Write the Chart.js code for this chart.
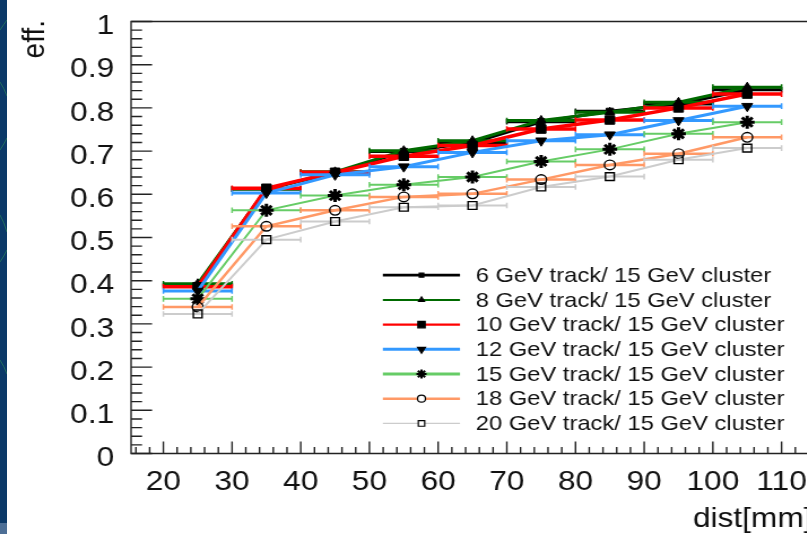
<!DOCTYPE html>
<html>
<head>
<meta charset="utf-8">
<script src="https://cdn.jsdelivr.net/npm/chart.js@4.4.1/dist/chart.umd.min.js"></script>
<style>
  html, body { margin: 0; padding: 0; background: #fff; }
  #wrap { position: relative; width: 807px; height: 534px; overflow: hidden; background: #fff; }
  /* the original plot was pasted into a slide slightly stretched sideways */
  #chart { position: absolute; left: 0; top: 0; transform: scaleX(1.13); transform-origin: 0 0; }
  #strip { position: absolute; left: 0; top: 0; width: 7px; height: 534px; background: #0b3968; }
  #strip svg { position: absolute; left: 0; top: 0; }
  #strip2 { position: absolute; left: 0; top: 523px; width: 7px; height: 11px; background: #4d6f96; }
</style>
</head>
<body>
<div id="wrap">
  <canvas id="chart" width="735" height="534"></canvas>
  <div id="strip">
    <svg width="7" height="534">
      <g stroke="#2e8b57" stroke-width="0.8" fill="none" opacity="0.8">
        <path d="M0 30 Q4 24 7 20"/>
        <path d="M0 82 Q4 88 7 96"/>
        <path d="M0 150 Q4 144 7 138"/>
        <path d="M0 215 Q4 222 7 232"/>
        <path d="M0 262 Q4 256 7 250"/>
        <path d="M0 360 Q4 366 7 374"/>
      </g>
    </svg>
  </div>
  <div id="strip2"></div>
</div>
<script>
// bin centres [mm], each bin is +-5 mm wide
const distBins = [25, 35, 45, 55, 65, 75, 85, 95, 105];
const binHalfWidth = 5;

// efficiency per bin, one array per track threshold
const eff6  = [0.389, 0.612, 0.650, 0.699, 0.719, 0.768, 0.792, 0.809, 0.842];
const eff8  = [0.393, 0.612, 0.652, 0.701, 0.724, 0.771, 0.790, 0.813, 0.848];
const eff10 = [0.386, 0.614, 0.651, 0.688, 0.713, 0.751, 0.772, 0.800, 0.832];
const eff12 = [0.376, 0.603, 0.645, 0.664, 0.697, 0.724, 0.738, 0.771, 0.804];
const eff15 = [0.358, 0.563, 0.597, 0.622, 0.640, 0.676, 0.704, 0.740, 0.767];
const eff18 = [0.339, 0.526, 0.563, 0.594, 0.601, 0.634, 0.668, 0.694, 0.732];
const eff20 = [0.323, 0.495, 0.537, 0.570, 0.574, 0.617, 0.641, 0.680, 0.707];

const seriesLabels = [
  "6 GeV track/ 15 GeV cluster",
  "8 GeV track/ 15 GeV cluster",
  "10 GeV track/ 15 GeV cluster",
  "12 GeV track/ 15 GeV cluster",
  "15 GeV track/ 15 GeV cluster",
  "18 GeV track/ 15 GeV cluster",
  "20 GeV track/ 15 GeV cluster"
];
const effSeries = [eff6, eff8, eff10, eff12, eff15, eff18, eff20];

const xTicks = [20, 30, 40, 50, 60, 70, 80, 90, 100, 110];
const yTicks = [0, 0.1, 0.2, 0.3, 0.4, 0.5, 0.6, 0.7, 0.8, 0.9, 1];
const yTitle = "eff.";
const xTitle = "dist[mm]";

// styles
const lineColors = ["#000000", "#006a00", "#ff0000", "#3399ff", "#66cc66", "#ff9966", "#cccccc"];
const lineWidths = [3, 3, 3.5, 3, 2, 2.5, 2];
const legendWidths = [2.7, 2, 2.4, 3, 3, 2.4, 1.3];
const markers = [
  { style: "rect", r: 4.5, rot: 0, fill: "#000", bw: 1, lr: 2.8 },
  { style: "triangle", r: 5, rot: 0, fill: "#000", bw: 1, lr: 3 },
  { style: "rect", r: 6, rot: 0, fill: "#000", bw: 1, lr: 4.5 },
  { style: "triangle", r: 5.5, rot: 180, fill: "#000", bw: 1, lr: 4 },
  { style: "star", r: 6.5, rot: 0, fill: "#000", bw: 3, lr: 4.5 },
  { style: "circle", r: 4.8, rot: 0, fill: "rgba(0,0,0,0)", bw: 1.4, lr: 3.5 },
  { style: "rect", r: 5.5, rot: 0, fill: "rgba(0,0,0,0)", bw: 1.4, lr: 4 }
];

const FONT = '"Liberation Sans", Arial, Helvetica, sans-serif';

// frame with ROOT style ticks pointing inwards, plus the y title at the top end
const frameTicks = {
  id: "frameTicks",
  beforeDatasetsDraw(chart) {
    const { ctx, chartArea: a, scales: { x, y } } = chart;
    ctx.save();
    ctx.strokeStyle = "#222";
    ctx.lineWidth = 1.4;
    ctx.beginPath();
    ctx.moveTo(a.right, a.top);
    ctx.lineTo(a.left, a.top);
    ctx.lineTo(a.left, a.bottom);
    ctx.lineTo(a.right, a.bottom);
    ctx.lineTo(a.right, a.top);
    ctx.stroke();

    ctx.beginPath();
    for (let i = 0; i <= 50; i++) {
      const py = y.getPixelForValue(i / 50);
      const len = i % 5 === 0 ? 18.6 : 9.7;
      ctx.moveTo(a.left, py);
      ctx.lineTo(a.left + len, py);
    }
    for (let v = 16; v < x.max; v += 2) {
      const px = x.getPixelForValue(v);
      const len = v % 10 === 0 ? 12 : 6.5;
      ctx.moveTo(px, a.bottom);
      ctx.lineTo(px, a.bottom - len);
    }
    ctx.stroke();

    ctx.translate(31, a.top - 1.5);
    ctx.rotate(-Math.PI / 2);
    ctx.font = "28px " + FONT;
    ctx.fillStyle = "#111";
    ctx.textAlign = "right";
    ctx.textBaseline = "middle";
    ctx.fillText(yTitle, 0, 0);
    ctx.restore();
  }
};

// horizontal error bars = bin width
const xErrorBars = {
  id: "xErrorBars",
  beforeDatasetDraw(chart, args) {
    const ds = chart.data.datasets[args.index];
    const { ctx, scales: { x, y } } = chart;
    ctx.save();
    ctx.strokeStyle = ds.borderColor;
    ctx.lineWidth = ds.borderWidth;
    ctx.beginPath();
    ds.data.forEach(p => {
      const x0 = x.getPixelForValue(p.x - binHalfWidth);
      const x1 = x.getPixelForValue(p.x + binHalfWidth);
      const py = y.getPixelForValue(p.y);
      ctx.moveTo(x0, py);
      ctx.lineTo(x1, py);
    });
    ctx.stroke();
    ctx.lineWidth = 1.5;
    ctx.beginPath();
    ds.data.forEach(p => {
      const x0 = x.getPixelForValue(p.x - binHalfWidth);
      const x1 = x.getPixelForValue(p.x + binHalfWidth);
      const py = y.getPixelForValue(p.y);
      ctx.moveTo(x0, py - 2.8); ctx.lineTo(x0, py + 2.8);
      ctx.moveTo(x1, py - 2.8); ctx.lineTo(x1, py + 2.8);
    });
    ctx.stroke();
    ctx.restore();
  }
};

// legend drawn like a ROOT TLegend: line + marker + text
const rootLegend = {
  id: "rootLegend",
  afterDatasetsDraw(chart) {
    const ctx = chart.ctx;
    ctx.save();
    ctx.font = "21px " + FONT;
    ctx.textBaseline = "middle";
    chart.data.datasets.forEach((ds, i) => {
      const yy = 275.2 + i * 24.7;
      ctx.strokeStyle = ds.borderColor;
      ctx.lineWidth = legendWidths[i];
      ctx.beginPath();
      ctx.moveTo(338.8, yy);
      ctx.lineTo(407.1, yy);
      ctx.stroke();
      const m = markers[i];
      ctx.fillStyle = m.fill === "#000" ? "#000" : "#fff";
      ctx.strokeStyle = "#000";
      ctx.lineWidth = m.style === "star" ? 2 : 1.2;
      Chart.helpers.drawPoint(ctx, { pointStyle: m.style, radius: m.lr, rotation: m.rot, borderWidth: ctx.lineWidth }, 373, yy);
      ctx.fillStyle = "#111";
      ctx.fillText(ds.label, 421, yy + 1);
    });
    ctx.restore();
  }
};

const datasets = seriesLabels.map((label, i) => ({
  label: label,
  data: distBins.map((d, k) => ({ x: d, y: effSeries[i][k] })),
  borderColor: lineColors[i],
  borderWidth: lineWidths[i],
  pointStyle: markers[i].style,
  pointRadius: markers[i].r,
  pointRotation: markers[i].rot,
  pointBackgroundColor: markers[i].fill,
  pointBorderColor: "#000",
  pointBorderWidth: markers[i].bw,
  tension: 0,
  fill: false,
  order: seriesLabels.length - i
}));

new Chart(document.getElementById("chart"), {
  type: "line",
  data: { datasets: datasets },
  options: {
    responsive: false,
    animation: false,
    devicePixelRatio: 1,
    layout: { padding: { top: 21.5, right: 16, bottom: 0, left: 0 } },
    plugins: { legend: { display: false }, tooltip: { enabled: false } },
    scales: {
      x: {
        type: "linear",
        min: 15.3,
        max: 114.5,
        grid: { display: false, drawTicks: false },
        border: { display: false },
        afterBuildTicks: s => { s.ticks = xTicks.map(v => ({ value: v })); },
        afterFit: s => {
          s.height = 80.5;
          s.paddingLeft = 0;
          s.paddingRight = 0;
        },
        ticks: {
          color: "#111",
          font: { family: FONT, size: 28 },
          padding: 12,
          maxRotation: 0,
          callback: v => String(v)
        },
        title: {
          display: true,
          text: xTitle,
          align: "end",
          color: "#111",
          font: { family: FONT, size: 28, lineHeight: 1 },
          padding: { top: 0, bottom: 1 }
        }
      },
      y: {
        min: 0,
        max: 1,
        grid: { display: false, drawTicks: false },
        border: { display: false },
        afterBuildTicks: s => { s.ticks = yTicks.map(v => ({ value: v })); },
        afterFit: s => {
          s.width = 116;
          s.paddingTop = 0;
          s.paddingBottom = 0;
        },
        ticks: {
          color: "#111",
          font: { family: FONT, size: 28 },
          padding: 15,
          labelOffset: 5,
          callback: v => String(+v.toFixed(1))
        }
      }
    }
  },
  plugins: [frameTicks, xErrorBars, rootLegend]
});
</script>
</body>
</html>
